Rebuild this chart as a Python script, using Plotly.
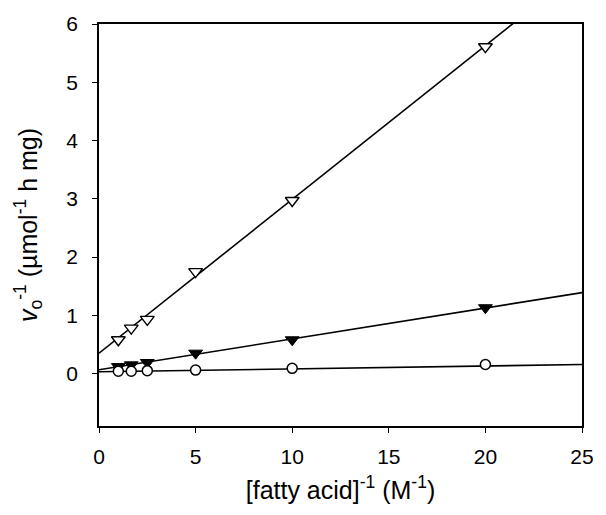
import plotly.graph_objects as go

# Data
x_vals = [1.0, 1.67, 2.5, 5.0, 10.0, 20.0]
y_open_tri = [0.58, 0.78, 0.93, 1.75, 2.97, 5.61]
y_filled_tri = [0.12, 0.15, 0.19, 0.35, 0.58, 1.13]
y_circle = [0.04, 0.04, 0.05, 0.06, 0.09, 0.155]

# Fitted lines (intercept, slope)
line_x = [0.0, 25.0]
fit_open_tri = (0.35, 0.264)
fit_filled_tri = (0.065, 0.053)
fit_circle = (0.03, 0.005)

x_ticks = [0, 5, 10, 15, 20, 25]
y_ticks = [0, 1, 2, 3, 4, 5, 6]

FONT = "Liberation Sans, Arial, sans-serif"

fig = go.Figure()

for (b, m) in [fit_open_tri, fit_filled_tri, fit_circle]:
    fig.add_trace(go.Scatter(
        x=line_x, y=[b + m * xx for xx in line_x], mode="lines",
        line=dict(color="black", width=1.6), showlegend=False, hoverinfo="skip"))

fig.add_trace(go.Scatter(
    x=x_vals, y=y_open_tri, mode="markers",
    marker=dict(symbol="triangle-down", size=12, color="white",
                line=dict(color="black", width=1.4)),
    showlegend=False, cliponaxis=False))
fig.add_trace(go.Scatter(
    x=x_vals, y=y_filled_tri, mode="markers",
    marker=dict(symbol="triangle-down", size=12, color="black",
                line=dict(color="black", width=1)),
    showlegend=False, cliponaxis=False))
fig.add_trace(go.Scatter(
    x=x_vals, y=y_circle, mode="markers",
    marker=dict(symbol="circle", size=10, color="white",
                line=dict(color="black", width=1.5)),
    showlegend=False, cliponaxis=False))

fig.update_layout(
    width=606, height=515,
    margin=dict(l=99, r=15, t=23, b=89),
    plot_bgcolor="white", paper_bgcolor="white",
    font=dict(family=FONT, size=21, color="black"),
)
fig.update_xaxes(
    range=[0, 25], tickvals=x_ticks, ticktext=[str(v) for v in x_ticks],
    showgrid=False, zeroline=False,
    showline=True, linecolor="black", linewidth=1.6, mirror=True,
    ticks="outside", ticklen=5, tickwidth=1.4, tickcolor="black",
    tickfont=dict(size=21), ticklabelstandoff=6,
    title=dict(text="[fatty acid]<sup>-1</sup> (M<sup>-1</sup>)",
               font=dict(size=25), standoff=14),
)
fig.update_yaxes(
    range=[-0.9, 6], tickvals=y_ticks, ticktext=[str(v) for v in y_ticks],
    showgrid=False, zeroline=False,
    showline=True, linecolor="black", linewidth=1.6, mirror=True,
    ticks="outside", ticklen=5, tickwidth=1.4, tickcolor="black",
    tickfont=dict(size=21), ticklabelstandoff=10,
    title=dict(text="<i>v</i><sub>o</sub><sup>-1</sup> (\u00b5mol<sup>-1</sup> h mg)",
               font=dict(size=25), standoff=22),
)

fig.write_html("out.html")
